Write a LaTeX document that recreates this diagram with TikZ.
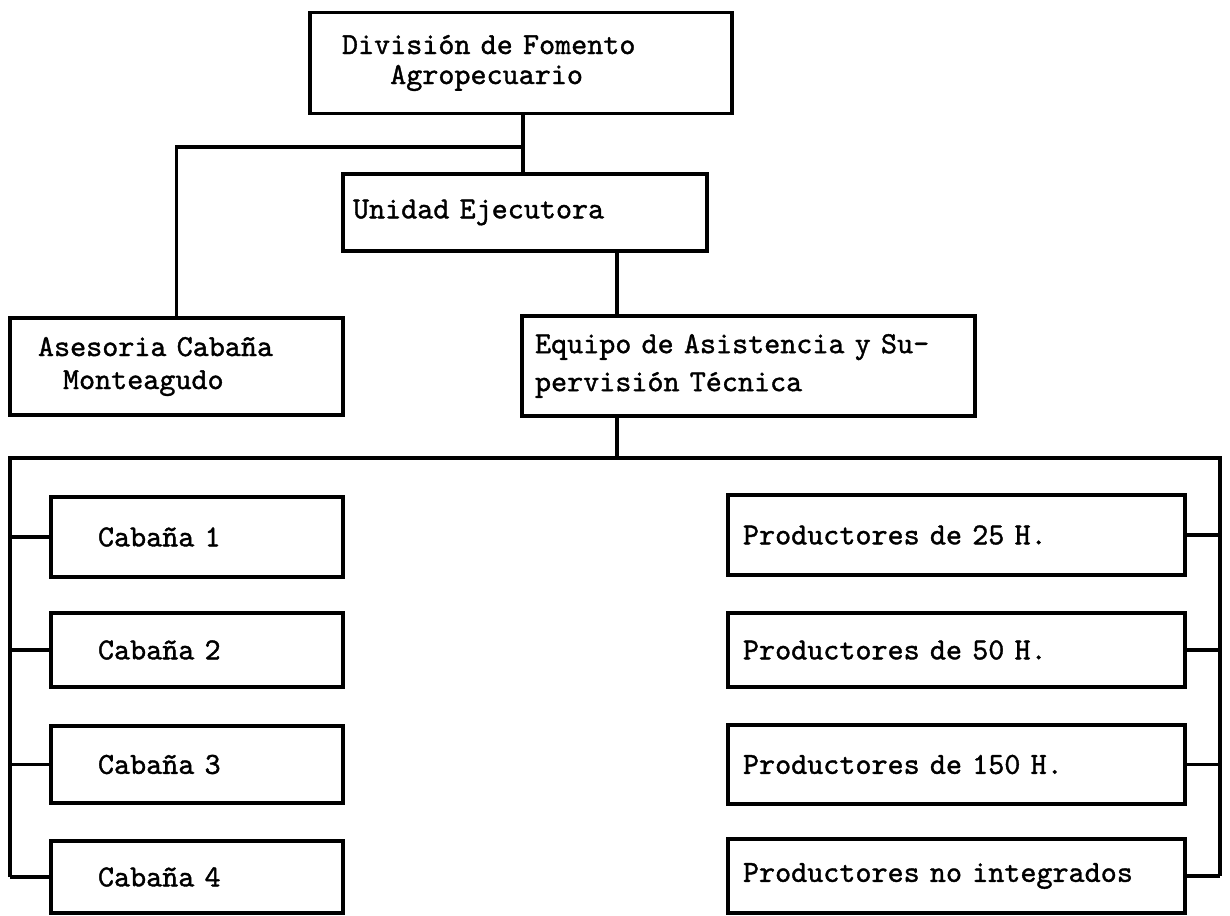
\documentclass[tikz,border=0pt]{standalone}
\usepackage{fontspec}
\newfontfamily\typer{lmmono10-regular.otf}[FakeBold=1.2]
\usepackage{tikz}

\begin{document}
\begin{tikzpicture}[x=0.5pt,y=-0.5pt,
  box/.style={draw, line width=1.6pt, align=left, inner ysep=0pt, font=\fontsize{15.3}{17}\typer},
  wire/.style={line width=1.6pt}]
\useasboundingbox (0,0) rectangle (1230,915);
\node[box, font=\fontsize{15.3}{15}\typer, minimum width=211pt, minimum height=50.5pt, text width=179pt, inner xsep=16pt] (div) at (521,63) {División de Fomento\\\hspace*{1.575em}Agropecuario};
\node[box, minimum width=182pt, minimum height=38.5pt, text width=172pt, inner xsep=5pt] (unidad) at (525,212.5) {Unidad Ejecutora};
\node[box, font=\fontsize{15.3}{16.5}\typer, minimum width=166.5pt, minimum height=48.5pt, text width=138.5pt, inner xsep=14pt] (ases) at (176.5,366.5) {Asesoria Cabaña\\\hspace*{12.5pt}Monteagudo};
\node[box, font=\fontsize{15.3}{19}\typer, minimum width=226.5pt, minimum height=50pt, text width=213.5pt, inner xsep=6.5pt] (equipo) at (748.5,366) {Equipo de Asistencia y Su-\\pervisión Técnica};
\foreach \i/\y/\h in {1/537/40, 2/650/37, 3/764.5/38.5, 4/877/36}
  \node[box, minimum width=146pt, minimum height=\h pt, text width=99pt, inner xsep=23.5pt] (cab\i) at (197,\y) {Cabaña \i};
\node[box, minimum width=228.5pt, minimum height=40pt, text width=213.5pt, inner xsep=7.5pt] (prod1) at (956.5,535) {Productores de 25 H.};
\node[box, minimum width=228.5pt, minimum height=37pt, text width=213.5pt, inner xsep=7.5pt] (prod2) at (956.5,650) {Productores de 50 H.};
\node[box, minimum width=228.5pt, minimum height=39.5pt, text width=213.5pt, inner xsep=7.5pt] (prod3) at (956.5,764.5) {Productores de 150 H.};
\node[box, minimum width=228.5pt, minimum height=37pt, text width=213.5pt, inner xsep=7.5pt] (prod4) at (956.5,876) {Productores no integrados};
\coordinate (jt) at (523,147);
\coordinate (bus) at (617,458);
\coordinate (busl) at (10,458);
\coordinate (busr) at (1220,458);
\draw[wire] (div.south -| jt) -- (jt |- unidad.north);
\draw[wire] (jt) -| (ases.north);
\draw[wire] (bus |- unidad.south) -- (bus |- equipo.north);
\draw[wire] (bus |- equipo.south) -- (bus);
\draw[wire] (busl |- cab4.west) -- (busl) -- (busr) -- (busr |- prod4.east);
\foreach \i in {1,2,3,4} {
  \draw[wire] (busl |- cab\i.west) -- (cab\i.west);
  \draw[wire] (prod\i.east) -- (busr |- prod\i.east);
}
\end{tikzpicture}
\end{document}
